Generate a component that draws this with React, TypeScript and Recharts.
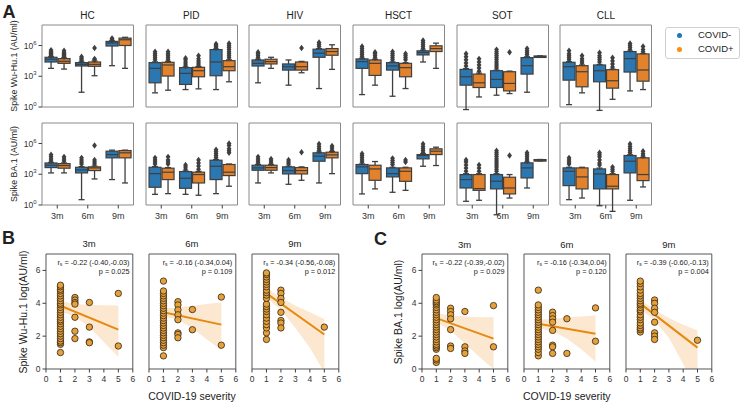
import React from "react";
import {
  ComposedChart,
  Bar,
  Area,
  Line,
  Scatter,
  XAxis,
  YAxis,
  ReferenceArea,
} from "recharts";

// box stats in log10(AU/ml): [lowWhisker, q1, median, q3, highWhisker, fliers]
type Box = [number, number, number, number, number, number[]];

const TIMES = ["3m", "6m", "9m"];
const GROUPS = ["HC", "PID", "HIV", "HSCT", "SOT", "CLL"];

const WU_HC_NEG: Box[] = [
  [3.77, 4.39, 4.66, 4.85, 4.9, [5.0, 5.1, 5.2, 5.3, 5.4, 5.55]],
  [1.44, 4.0, 4.16, 4.33, 4.39, [4.5, 4.6, 4.75, 4.9]],
  [4.03, 5.95, 6.25, 6.4, 6.45, [6.5, 6.6, 6.7]],
];
const WU_HC_POS: Box[] = [
  [3.7, 4.26, 4.46, 4.72, 4.79, [4.9, 5.0, 5.1, 5.2, 5.3, 5.5]],
  [3.05, 3.97, 4.16, 4.39, 4.49, [4.6, 4.7, 5.75]],
  [3.77, 6.0, 6.56, 6.72, 6.8, []],
];
const WU_PID_NEG: Box[] = [
  [1.38, 2.36, 3.77, 4.33, 4.4, [4.6, 4.8, 5.0, 5.2, 5.4]],
  [1.7, 2.2, 3.28, 3.84, 3.9, [4.0, 4.2, 4.4, 4.6, 4.75]],
  [1.7, 3.05, 4.39, 5.6, 5.65, [5.75, 5.9, 6.05, 6.15]],
];
const WU_PID_POS: Box[] = [
  [1.64, 3.02, 4.1, 4.36, 4.45, [4.6, 4.8, 5.0, 5.2, 5.4]],
  [1.77, 2.95, 3.54, 3.87, 3.95, [4.1, 4.3, 4.5, 4.7, 5.0]],
  [2.46, 3.54, 3.93, 4.52, 4.6, [4.8, 5.0, 5.2, 5.4, 5.6, 5.8, 6.0, 6.2]],
];
const WU_HIV_NEG: Box[] = [
  [2.36, 4.0, 4.26, 4.59, 4.65, [4.8, 5.0, 5.2, 5.35]],
  [2.13, 3.6, 3.93, 4.2, 4.59, []],
  [1.8, 4.85, 5.25, 5.64, 5.7, [5.9, 6.1, 6.3]],
];
const WU_HIV_POS: Box[] = [
  [3.77, 4.2, 4.43, 4.66, 4.85, []],
  [3.34, 3.6, 3.93, 4.39, 4.45, [5.75]],
  [3.67, 5.05, 5.41, 5.7, 6.07, []],
];
const WU_HSCT_NEG: Box[] = [
  [1.21, 3.77, 4.43, 4.69, 4.75, [4.9, 5.1, 5.3, 5.5, 5.7, 5.9]],
  [1.05, 3.6, 4.0, 4.33, 4.4, [4.6, 4.8, 5.0, 5.2, 5.4]],
  [4.39, 5.08, 5.31, 5.48, 5.55, [5.7, 5.9, 6.1, 6.3, 6.5]],
];
const WU_HSCT_POS: Box[] = [
  [2.13, 3.08, 4.26, 4.59, 4.65, [4.8, 5.0, 5.2, 5.35]],
  [1.8, 2.95, 3.84, 4.26, 4.32, [4.6, 4.8, 5.0, 5.2]],
  [3.77, 5.41, 5.7, 5.97, 6.23, []],
];
const WU_SOT_NEG: Box[] = [
  [-0.25, 2.13, 2.95, 3.67, 3.75, [4.0, 4.3, 4.6, 4.9, 5.2]],
  [1.15, 1.9, 2.69, 3.54, 3.6, [3.8, 4.0, 4.2, 4.4, 4.6, 4.8, 5.0, 5.2, 5.4, 5.6]],
  [1.44, 3.21, 4.03, 4.82, 4.9, [5.1, 5.3, 5.5, 5.7]],
];
const WU_SOT_POS: Box[] = [
  [0.98, 1.9, 2.36, 3.21, 3.3, [3.5, 3.8, 4.1, 4.4, 4.7]],
  [1.31, 1.57, 2.3, 3.44, 3.5, [5.34]],
  [4.85, 4.86, 4.92, 4.98, 4.99, []],
];
const WU_CLL_NEG: Box[] = [
  [0.23, 2.62, 3.93, 4.36, 4.42, [4.6, 4.8, 5.0, 5.2, 5.5]],
  [-0.33, 2.46, 3.54, 4.1, 4.15, [4.4, 4.6, 4.8, 5.0, 5.3]],
  [1.57, 3.41, 4.72, 5.41, 5.45, [5.6, 5.8, 6.0, 6.2]],
];
const WU_CLL_POS: Box[] = [
  [1.38, 1.97, 3.44, 4.03, 4.1, [4.3, 4.5, 4.7, 5.0]],
  [0.75, 1.84, 2.56, 3.64, 3.7, [3.9, 4.2, 4.5, 4.8]],
  [1.7, 2.52, 3.61, 5.18, 5.22, [5.4, 5.6, 5.9]],
];

const BA_HC_NEG: Box[] = [
  [3.13, 3.65, 3.88, 4.1, 4.15, [4.3, 4.5, 4.7, 4.9]],
  [0.52, 3.13, 3.42, 3.68, 3.75, [4.0, 4.2, 4.4, 4.6]],
  [2.48, 4.6, 4.92, 5.25, 5.35, []],
];
const BA_HC_POS: Box[] = [
  [3.13, 3.59, 3.85, 4.04, 4.1, [4.3, 4.5, 4.7]],
  [2.54, 3.36, 3.62, 3.72, 3.8, [4.0, 4.2, 4.4, 5.8]],
  [2.15, 4.6, 5.09, 5.31, 5.35, []],
];
const BA_PID_NEG: Box[] = [
  [1.04, 1.73, 3.06, 3.68, 3.75, [4.0, 4.2, 4.4, 4.6]],
  [1.04, 1.63, 2.61, 3.26, 3.32, [3.5, 3.7, 3.9]],
  [1.11, 2.48, 3.78, 4.37, 4.43, [4.6, 4.8, 5.0, 5.2, 5.4]],
];
const BA_PID_POS: Box[] = [
  [1.11, 2.48, 3.2, 3.59, 3.65, [4.0, 4.2, 4.4, 4.7]],
  [0.95, 2.15, 2.97, 3.2, 3.28, [3.5, 3.8, 4.1, 4.4]],
  [1.83, 2.87, 3.2, 3.95, 4.0, [5.1, 5.3, 5.5, 5.8, 6.0]],
];
const BA_HIV_NEG: Box[] = [
  [2.15, 3.39, 3.62, 3.88, 3.95, [4.1, 4.3, 4.5, 4.7]],
  [2.02, 3.03, 3.36, 3.72, 3.78, [4.0, 4.2, 4.4]],
  [2.15, 4.27, 4.76, 5.09, 5.15, [5.3, 5.5, 5.7, 5.95]],
];
const BA_HIV_POS: Box[] = [
  [3.13, 3.39, 3.65, 3.88, 3.95, [4.1, 4.3, 4.5]],
  [2.41, 3.03, 3.36, 3.65, 3.72, [5.15]],
  [3.06, 4.6, 4.89, 5.15, 5.22, [5.35, 5.55, 5.75]],
];
const BA_HSCT_NEG: Box[] = [
  [1.08, 3.06, 3.72, 3.95, 4.0, [4.2, 4.4, 4.6, 4.8, 5.0]],
  [1.24, 2.74, 3.06, 3.62, 3.68, [3.95, 4.15, 4.35, 4.55]],
  [3.78, 4.5, 4.83, 4.92, 5.0, [5.1, 5.3, 5.5, 5.7, 5.95]],
];
const BA_HSCT_POS: Box[] = [
  [1.57, 2.41, 3.52, 3.88, 4.24, []],
  [1.43, 2.31, 3.29, 3.62, 3.68, [4.2, 4.4]],
  [3.85, 4.92, 5.25, 5.48, 5.64, []],
];
const BA_SOT_NEG: Box[] = [
  [0.36, 1.66, 2.48, 2.97, 3.05, [3.3, 3.6, 3.9, 4.2, 4.4]],
  [-0.95, 1.57, 2.32, 2.97, 3.05, [3.3, 3.5, 3.7, 3.9, 4.1, 4.3, 4.5, 4.7, 4.9, 5.1, 5.3]],
  [1.66, 2.64, 3.62, 4.11, 4.17, [4.3, 4.5, 4.7, 4.9, 5.1]],
];
const BA_SOT_POS: Box[] = [
  [0.46, 1.43, 1.6, 2.97, 3.05, [3.3, 3.6, 3.9]],
  [0.68, 1.08, 1.66, 2.71, 2.97, [4.83]],
  [4.3, 4.31, 4.37, 4.43, 4.44, []],
];
const BA_CLL_NEG: Box[] = [
  [0.52, 1.89, 3.29, 3.62, 3.68, [4.0, 4.2, 4.4, 4.6]],
  [-0.07, 1.57, 3.03, 3.52, 3.6, [3.9, 4.1, 4.4, 4.7, 4.9, 5.1]],
  [0.46, 3.13, 4.27, 4.83, 4.9, [5.1, 5.3, 5.5, 5.7, 5.95]],
];
const BA_CLL_POS: Box[] = [
  [0.68, 1.57, 2.74, 3.62, 3.68, []],
  [-0.62, 1.57, 1.83, 2.97, 3.05, [3.3, 3.5, 3.7]],
  [1.76, 2.38, 2.97, 4.6, 4.65, [4.8, 5.0, 5.25]],
];

const WU_NEG = [WU_HC_NEG, WU_PID_NEG, WU_HIV_NEG, WU_HSCT_NEG, WU_SOT_NEG, WU_CLL_NEG];
const WU_POS = [WU_HC_POS, WU_PID_POS, WU_HIV_POS, WU_HSCT_POS, WU_SOT_POS, WU_CLL_POS];
const BA_NEG = [BA_HC_NEG, BA_PID_NEG, BA_HIV_NEG, BA_HSCT_NEG, BA_SOT_NEG, BA_CLL_NEG];
const BA_POS = [BA_HC_POS, BA_PID_POS, BA_HIV_POS, BA_HSCT_POS, BA_SOT_POS, BA_CLL_POS];

// correlation panels: [severity, log values]
type Rows = [number, number[]][];
const SEV = [1, 2, 3, 4, 5];

const WU_3M_PTS: Rows = [
  [1, [1.0, 1.5, 1.6, 1.7, 1.85, 2.0, 2.15, 2.3, 2.45, 2.6, 2.75, 2.9, 3.0, 3.15, 3.3, 3.45, 3.6, 3.75, 3.9, 4.0, 4.15, 4.3, 4.45, 4.6, 4.75, 4.85, 5.0, 5.1]],
  [2, [4.35, 4.2, 4.05, 3.95, 3.15, 2.3, 1.85]],
  [3, [4.05, 2.55, 1.65, 1.6]],
  [5, [4.6, 1.4]],
];
const WU_3M_FIT = [3.85, 2.4];
const WU_3M_LO = [3.5, 3.2, 2.55, 1.65, 0.75];
const WU_3M_HI = [4.15, 3.95, 3.9, 3.88, 3.87];

const WU_6M_PTS: Rows = [
  [1, [0.8, 1.3, 1.45, 1.6, 1.75, 1.9, 2.05, 2.2, 2.35, 2.5, 2.65, 2.8, 2.95, 3.1, 3.25, 3.4, 3.55, 3.7, 3.85, 4.0, 4.15, 4.3, 4.45, 4.6, 4.75, 5.35]],
  [2, [4.1, 3.9, 3.6, 3.3, 3.0, 2.2, 2.1, 1.9]],
  [3, [3.62, 2.39]],
  [5, [4.38, 1.45]],
];
const WU_6M_FIT = [3.45, 2.7];
const WU_6M_LO = [3.2, 3.0, 2.5, 1.8, 1.15];
const WU_6M_HI = [3.7, 3.75, 3.85, 3.95, 4.05];

const WU_9M_PTS: Rows = [
  [1, [1.8, 2.2, 2.5, 2.7, 2.9, 3.1, 3.3, 3.5, 3.65, 3.8, 3.95, 4.3, 4.5, 4.65, 4.8, 5.0, 5.15, 5.3, 5.45, 5.6, 5.75, 5.85]],
  [2, [4.8, 4.6, 4.3, 4.05, 3.45, 2.95, 2.8, 2.5]],
  [5, [2.55]],
];
const WU_9M_FIT = [4.6, 2.1];
const WU_9M_LO = [4.3, 3.6, 2.5, 1.3, -0.2];
const WU_9M_HI = [4.9, 4.35, 3.85, 3.45, 3.05];

const BA_3M_PTS: Rows = [
  [1, [0.4, 0.55, 0.65, 1.2, 1.3, 1.4, 1.5, 1.65, 1.8, 1.95, 2.1, 2.25, 2.4, 2.55, 2.7, 2.85, 3.0, 3.15, 3.3, 3.45, 3.6, 3.75, 3.9, 4.0, 4.1, 4.2, 4.35]],
  [2, [3.7, 3.5, 3.3, 3.05, 2.4, 1.4, 1.25]],
  [3, [3.5, 1.35, 1.1, 0.95]],
  [5, [3.86, 1.35]],
];
const BA_3M_FIT = [3.1, 1.85];
const BA_3M_LO = [2.85, 2.35, 1.55, 0.75, 0.0];
const BA_3M_HI = [3.4, 3.25, 3.2, 3.15, 3.15];

const BA_6M_PTS: Rows = [
  [1, [0.8, 1.0, 1.2, 1.35, 1.5, 1.65, 1.8, 1.95, 2.1, 2.25, 2.4, 2.55, 2.7, 2.85, 3.0, 3.15, 3.3, 3.45, 3.6, 3.75, 3.9, 4.8]],
  [2, [3.46, 3.25, 3.05, 2.85, 2.35, 1.45, 1.35, 0.95]],
  [3, [3.06, 0.95]],
  [5, [3.72, 1.69]],
];
const BA_6M_FIT = [2.75, 2.15];
const BA_6M_LO = [2.5, 2.3, 1.85, 1.2, 0.45];
const BA_6M_HI = [3.0, 3.05, 3.15, 3.2, 3.25];

const BA_9M_PTS: Rows = [
  [1, [2.25, 2.4, 2.5, 2.65, 2.8, 3.0, 3.15, 3.3, 3.5, 3.6, 3.75, 3.9, 4.0, 4.15, 4.3, 4.45, 4.6, 4.8, 5.0, 5.2, 5.35]],
  [2, [4.2, 4.0, 3.7, 3.45, 2.85, 2.2, 2.0, 1.8]],
  [5, [1.75]],
];
const BA_9M_FIT = [3.98, 1.3];
const BA_9M_LO = [3.65, 2.95, 1.9, 0.3, -1.45];
const BA_9M_HI = [4.2, 3.6, 3.1, 2.7, 2.35];

const WU_STATS = [
  ["-0.22 (-0.40,-0.03)", "0.025"],
  ["-0.16 (-0.34,0.04)", "0.109"],
  ["-0.34 (-0.56,-0.08)", "0.012"],
];
const BA_STATS = [
  ["-0.22 (-0.39,-0.02)", "0.029"],
  ["-0.16 (-0.34,0.04)", "0.120"],
  ["-0.39 (-0.60,-0.13)", "0.004"],
];

const BLUE = "#2b77b1";
const ORANGE = "#e2822d";
const EDGE = "#3f3f3f";
const DOT = "#e7a13a";
const FIT = "#e68a0e";
const BAND = "#fce7d0";

const FONT = '"Liberation Sans", Arial, Helvetica, sans-serif';

// box panel geometry
const YW = 36;
const XH = 20;
const PW = 91.5;
const PH = 82;
const BOX_LEFT = [41.7, 145.5, 249.2, 352.8, 456.6, 560.2];

const boxShape = (key: "neg" | "pos", fill: string) => (props: any) => {
  const { x, y, width, height, payload } = props;
  const [lw, q1, med, q3, hw, fliers] = payload[key] as Box;
  const top = Math.min(y, y + height);
  const h = Math.abs(height);
  const k = h / (q3 - q1);
  const py = (v: number) => top + (q3 - v) * k;
  const cx = x + width / 2;
  const cap = width * 0.25;
  return (
    <g>
      <line x1={cx} x2={cx} y1={py(q3)} y2={py(hw)} stroke={EDGE} strokeWidth={1.3} />
      <line x1={cx} x2={cx} y1={py(q1)} y2={py(lw)} stroke={EDGE} strokeWidth={1.3} />
      <line x1={cx - cap} x2={cx + cap} y1={py(hw)} y2={py(hw)} stroke={EDGE} strokeWidth={1.3} />
      <line x1={cx - cap} x2={cx + cap} y1={py(lw)} y2={py(lw)} stroke={EDGE} strokeWidth={1.3} />
      <rect x={x} y={top} width={width} height={Math.max(h, 1.5)} fill={fill} stroke={EDGE} strokeWidth={1.2} />
      <line x1={x} x2={x + width} y1={py(med)} y2={py(med)} stroke={EDGE} strokeWidth={1.2} />
      {fliers.map((v, i) => {
        const fy = py(v);
        return (
          <path
            key={i}
            d={`M${cx},${fy - 3.2}L${cx + 2.4},${fy}L${cx},${fy + 3.2}L${cx - 2.4},${fy}Z`}
            fill={EDGE}
          />
        );
      })}
    </g>
  );
};

const PowTick = (props: any) => {
  const { x, y, payload } = props;
  return (
    <text x={x} y={y} dy={3} textAnchor="end" fontSize={8.5} fill="#333">
      10
      <tspan dy={-4} fontSize={6}>
        {payload.value}
      </tspan>
    </text>
  );
};

function BoxPanel({ left, top, neg, pos, showY, showX }: any) {
  const data = TIMES.map((t, i) => ({ t, neg: neg[i], pos: pos[i] }));
  return (
    <div style={{ position: "absolute", left: left - YW, top: top - 4 }}>
      <ComposedChart
        width={YW + PW + 4}
        height={4 + PH + XH}
        data={data}
        margin={{ top: 4, right: 4, bottom: 0, left: 0 }}
        barCategoryGap="10%"
        barGap={1}
      >
        <XAxis
          dataKey="t"
          height={XH}
          interval={0}
          axisLine={false}
          tickLine={{ stroke: EDGE }}
          tickSize={3.5}
          tickMargin={4}
          tick={showX ? { fontSize: 9, fill: "#333" } : false}
        />
        <YAxis
          type="number"
          domain={[0, 8]}
          ticks={[0, 3, 6]}
          width={YW}
          axisLine={false}
          tickLine={{ stroke: EDGE }}
          tickSize={3.5}
          tickMargin={2}
          tick={showY ? PowTick : false}
        />
        <ReferenceArea y1={0} y2={8} fill="none" stroke="#8a8a8a" strokeWidth={1} ifOverflow="visible" />
        <Bar
          name="COVID-"
          dataKey={(d: any) => [d.neg[1], d.neg[3]]}
          shape={boxShape("neg", BLUE)}
          isAnimationActive={false}
        />
        <Bar
          name="COVID+"
          dataKey={(d: any) => [d.pos[1], d.pos[3]]}
          shape={boxShape("pos", ORANGE)}
          isAnimationActive={false}
        />
      </ComposedChart>
    </div>
  );
}

// scatter panel geometry
const SYW = 22;
const SXH = 20;
const SPH = 115;
const STOP = 254;

function ScatterPanel({ left, pw, rows, fit, lo, hi, showY }: any) {
  const pts = (rows as Rows).flatMap(([x, ys]) => ys.map((y) => ({ x, y })));
  const band = SEV.map((x, i) => ({ x, range: [lo[i], hi[i]] }));
  const fitPts = [
    { x: 1, y: fit[0] },
    { x: 5, y: fit[1] },
  ];
  return (
    <div style={{ position: "absolute", left: left - SYW, top: STOP - 4 }}>
      <ComposedChart
        width={SYW + pw + 4}
        height={4 + SPH + SXH}
        data={band}
        margin={{ top: 4, right: 4, bottom: 0, left: 0 }}
      >
        <XAxis
          type="number"
          dataKey="x"
          domain={[0, 6]}
          ticks={[0, 1, 2, 3, 4, 5, 6]}
          height={SXH}
          interval={0}
          axisLine={false}
          tickLine={{ stroke: EDGE }}
          tickSize={3.5}
          tickMargin={3}
          tick={{ fontSize: 8.5, fill: "#333" }}
        />
        <YAxis
          type="number"
          domain={[0, 7]}
          ticks={[0, 2, 4, 6]}
          allowDataOverflow
          width={SYW}
          axisLine={false}
          tickLine={{ stroke: EDGE }}
          tickSize={3.5}
          tickMargin={2}
          tick={showY ? { fontSize: 8.5, fill: "#333" } : false}
        />
        <Area
          dataKey="range"
          type="linear"
          stroke="none"
          fill={BAND}
          fillOpacity={1}
          isAnimationActive={false}
        />
        <Scatter
          data={pts}
          dataKey="y"
          isAnimationActive={false}
          shape={(p: any) => (
            <circle cx={p.cx} cy={p.cy} r={3.2} fill={DOT} stroke="#2e2416" strokeWidth={0.8} />
          )}
        />
        <Line
          data={fitPts}
          dataKey="y"
          type="linear"
          stroke={FIT}
          strokeWidth={2}
          dot={false}
          isAnimationActive={false}
        />
        <ReferenceArea x1={0} x2={6} y1={0} y2={7} fill="none" stroke="#555" strokeWidth={1} ifOverflow="visible" />
      </ComposedChart>
    </div>
  );
}

const Txt = ({ x, y, size, children, rot, bold, anchor }: any) => (
  <div
    style={{
      position: "absolute",
      left: x,
      top: y,
      fontSize: size,
      fontWeight: bold ? 700 : 400,
      whiteSpace: "nowrap",
      lineHeight: 1,
      color: "#222",
      transform: `translate(${anchor === "end" ? "-100%" : anchor === "start" ? "0" : "-50%"}, -50%)${
        rot ? " rotate(-90deg)" : ""
      }`,
    }}
  >
    {children}
  </div>
);

const Stat = ({ right, stat }: any) => (
  <>
    <Txt x={right} y={263} size={7.3} anchor="end">
      r<sub style={{ fontSize: 5, verticalAlign: "-1px" }}>s</sub> = {stat[0]}
    </Txt>
    <Txt x={right} y={271.8} size={7.3} anchor="end">
      p = {stat[1]}
    </Txt>
  </>
);

const B_LEFT = [45.7, 148.5, 251.5];
const C_LEFT = [421.7, 523.9, 626];
const B_W = 86.8;
const C_W = 85.8;

export default function App() {
  const wuSets = [
    [WU_3M_PTS, WU_3M_FIT, WU_3M_LO, WU_3M_HI],
    [WU_6M_PTS, WU_6M_FIT, WU_6M_LO, WU_6M_HI],
    [WU_9M_PTS, WU_9M_FIT, WU_9M_LO, WU_9M_HI],
  ];
  const baSets = [
    [BA_3M_PTS, BA_3M_FIT, BA_3M_LO, BA_3M_HI],
    [BA_6M_PTS, BA_6M_FIT, BA_6M_LO, BA_6M_HI],
    [BA_9M_PTS, BA_9M_FIT, BA_9M_LO, BA_9M_HI],
  ];
  return (
    <div
      style={{
        position: "absolute",
        left: 0,
        top: 0,
        width: 750,
        height: 402,
        background: "#fff",
        fontFamily: FONT,
        overflow: "hidden",
      }}
    >
      {/* panel A */}
      <Txt x={9} y={12} size={18} bold>
        A
      </Txt>
      {GROUPS.map((g, i) => (
        <React.Fragment key={g}>
          <Txt x={BOX_LEFT[i] + PW / 2} y={15.5} size={10}>
            {g}
          </Txt>
          <BoxPanel left={BOX_LEFT[i]} top={25} neg={WU_NEG[i]} pos={WU_POS[i]} showY={i === 0} showX={false} />
          <BoxPanel left={BOX_LEFT[i]} top={123} neg={BA_NEG[i]} pos={BA_POS[i]} showY={i === 0} showX />
        </React.Fragment>
      ))}
      <Txt x={14} y={66} size={8.8} rot>
        Spike Wu-Hu.1 (AU/ml)
      </Txt>
      <Txt x={14} y={164} size={8.8} rot>
        Spike BA.1 (AU/ml)
      </Txt>

      {/* legend */}
      <div
        style={{
          position: "absolute",
          left: 665,
          top: 27,
          width: 75,
          height: 32,
          border: "1px solid #d0d0d0",
          borderRadius: 3,
          boxSizing: "border-box",
        }}
      />
      {[
        ["COVID-", "#1f77b4", 35],
        ["COVID+", "#ff8c0e", 49],
      ].map(([label, c, y]: any) => (
        <React.Fragment key={label}>
          <div
            style={{
              position: "absolute",
              left: 676.5,
              top: y - 2.5,
              width: 5,
              height: 5,
              borderRadius: "50%",
              background: c,
            }}
          />
          <Txt x={698} y={y} size={9.5} anchor="start">
            {label}
          </Txt>
        </React.Fragment>
      ))}

      {/* panel B */}
      <Txt x={8.5} y={238} size={18} bold>
        B
      </Txt>
      {wuSets.map(([rows, fit, lo, hi], i) => (
        <React.Fragment key={"b" + i}>
          <Txt x={B_LEFT[i] + B_W / 2} y={244} size={9.5}>
            {TIMES[i]}
          </Txt>
          <ScatterPanel left={B_LEFT[i]} pw={B_W} rows={rows} fit={fit} lo={lo} hi={hi} showY={i === 0} />
          <Stat right={B_LEFT[i] + B_W - 3} stat={WU_STATS[i]} />
        </React.Fragment>
      ))}
      <Txt x={22.5} y={311.5} size={10.5} rot>
        Spike Wu-Hu.1 log(AU/ml)
      </Txt>
      <Txt x={B_LEFT[1] + B_W / 2} y={396} size={10.5}>
        COVID-19 severity
      </Txt>

      {/* panel C */}
      <Txt x={380.5} y={239} size={18} bold>
        C
      </Txt>
      {baSets.map(([rows, fit, lo, hi], i) => (
        <React.Fragment key={"c" + i}>
          <Txt x={C_LEFT[i] + C_W / 2} y={244.5} size={9.5}>
            {TIMES[i]}
          </Txt>
          <ScatterPanel left={C_LEFT[i]} pw={C_W} rows={rows} fit={fit} lo={lo} hi={hi} showY={i === 0} />
          <Stat right={C_LEFT[i] + C_W - 3} stat={BA_STATS[i]} />
        </React.Fragment>
      ))}
      <Txt x={398} y={311.5} size={10.5} rot>
        Spike BA.1 log(AU/ml)
      </Txt>
      <Txt x={C_LEFT[1] + C_W / 2} y={396} size={10.5}>
        COVID-19 severity
      </Txt>
    </div>
  );
}
